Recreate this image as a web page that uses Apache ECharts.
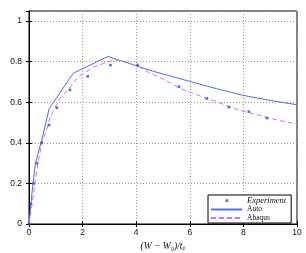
<!DOCTYPE html>
<html><head><meta charset="utf-8">
<script src="https://cdn.jsdelivr.net/npm/echarts@6/dist/echarts.min.js"></script>
<style>html,body{margin:0;padding:0;background:#fff}#c{width:306px;height:253px}</style>
</head><body><div id="c"></div>
<script>
// Experiment points
var expX = [0, 0.06, 0.17, 0.30, 0.47, 0.75, 1.04, 1.53, 2.19, 3.04, 4.05, 5.6, 6.64, 7.46, 8.2, 8.88];
var expY = [0, 0.10, 0.20, 0.30, 0.40, 0.488, 0.573, 0.661, 0.728, 0.783, 0.784, 0.677, 0.619, 0.576, 0.554, 0.522];
// Auto (solid)
var autoX = [0, 0.07, 0.15, 0.24, 0.47, 0.75, 1.65, 2.95, 4.5, 6.0, 7.0, 8.0, 9.0, 10];
var autoY = [0, 0.10, 0.20, 0.30, 0.41, 0.568, 0.743, 0.826, 0.758, 0.703, 0.667, 0.634, 0.609, 0.588];
// Abaqus (dashed)
var abaqusX = [0, 0.12, 0.22, 0.33, 0.50, 0.65, 0.79, 0.92, 1.15, 1.5, 1.85, 2.4, 3.0, 3.25, 3.65, 4.1, 4.5, 4.9, 5.3, 5.6, 6.0, 6.45, 7.2, 7.7, 8.5, 9.3, 10];
var abaqusY = [0, 0.10, 0.20, 0.30, 0.41, 0.462, 0.527, 0.56, 0.618, 0.667, 0.727, 0.773, 0.802, 0.809, 0.797, 0.775, 0.745, 0.721, 0.694, 0.67, 0.65, 0.628, 0.593, 0.567, 0.539, 0.511, 0.493];
var seriesNames = ['Experiment', 'Auto', 'Abaqus'];
var xTitle = '(W \u2212 W\u2080)/t\u209B';
var yTitle = 'p';

function pairs(xs, ys) { return xs.map(function (x, i) { return [x, ys[i]]; }); }

var chart = echarts.init(document.getElementById('c'), null, { renderer: 'canvas' });
var tickFont = { fontSize: 8.5, fontFamily: 'Liberation Sans', color: '#111' };
var gridLine = { show: true, lineStyle: { color: '#9a9a9a', width: 1, type: [1, 2] } };
var noSym = { color: 'rgba(0,0,0,0)', borderWidth: 0, opacity: 0 };
chart.setOption({
  animation: false,
  backgroundColor: '#fff',
  grid: { left: 29, right: 9, top: 11, bottom: 29, show: true, borderColor: '#000', borderWidth: 1, containLabel: false, outerBoundsMode: 'none' },
  xAxis: [{
    type: 'value', min: 0, max: 10, interval: 2, position: 'bottom',
    axisLine: { show: true, lineStyle: { color: '#000', width: 1 } },
    axisTick: { show: true, inside: true, length: 3, lineStyle: { color: '#000' } },
    axisLabel: Object.assign({ margin: 4 }, tickFont),
    splitLine: gridLine,
    name: xTitle, nameLocation: 'middle', nameGap: 16,
    nameTextStyle: { fontSize: 9.5, fontStyle: 'italic', fontFamily: 'Liberation Serif', color: '#111' }
  }, {
    type: 'value', min: 0, max: 10, interval: 2, position: 'top',
    axisLine: { show: true, lineStyle: { color: '#000', width: 1 } },
    axisTick: { show: true, inside: true, length: 3, lineStyle: { color: '#000' } },
    axisLabel: { show: false }, splitLine: { show: false }
  }],
  yAxis: [{
    type: 'value', min: 0, max: 1.05, interval: 0.2, position: 'left',
    axisLine: { show: true, lineStyle: { color: '#000', width: 1 } },
    axisTick: { show: true, inside: true, length: 3, lineStyle: { color: '#000' } },
    axisLabel: Object.assign({
      margin: 7, showMaxLabel: false,
      formatter: function (v) { var r = Math.round(v * 10) / 10; return Math.abs(r * 5 - Math.round(r * 5)) < 1e-6 && Math.abs(v - r) < 1e-6 ? String(r) : ''; }
    }, tickFont),
    splitLine: gridLine,
    name: yTitle, nameLocation: 'middle', nameGap: 19, nameRotate: 90,
    nameTextStyle: { fontSize: 10, fontStyle: 'italic', fontFamily: 'Liberation Serif', color: '#111' }
  }, {
    type: 'value', min: 0, max: 1.05, interval: 0.2, position: 'right',
    axisLine: { show: true, lineStyle: { color: '#000', width: 1 } },
    axisTick: { show: true, inside: true, length: 3, lineStyle: { color: '#000' } },
    axisLabel: { show: false }, splitLine: { show: false }
  }],
  legend: {
    orient: 'vertical', left: 208, top: 195,
    padding: [1, 5, 1, 2], itemWidth: 31, itemHeight: 7, itemGap: 0.5,
    borderColor: '#000', borderWidth: 1, backgroundColor: '#fff',
    textStyle: { fontSize: 7.5, lineHeight: 7, fontFamily: 'Liberation Serif', color: '#111' },
    data: [
      { name: seriesNames[0], icon: 'path://M0,0M31,7M14.5,2.3h2.6v2.6h-2.6z', textStyle: { fontStyle: 'italic', fontSize: 8.5 } },
      { name: seriesNames[1], itemStyle: noSym },
      { name: seriesNames[2], itemStyle: noSym }
    ]
  },
  series: [
    {
      name: seriesNames[0], type: 'scatter', xAxisIndex: 0, yAxisIndex: 0,
      symbol: 'rect', symbolSize: 2.6, itemStyle: { color: '#2448f0' },
      data: pairs(expX, expY), z: 5
    },
    {
      name: seriesNames[1], type: 'line', xAxisIndex: 0, yAxisIndex: 0,
      symbol: 'none', showSymbol: false, itemStyle: { color: '#4a6cf8' },
      lineStyle: { color: '#4a6cf8', width: 1 }, data: pairs(autoX, autoY)
    },
    {
      name: seriesNames[2], type: 'line', xAxisIndex: 0, yAxisIndex: 0,
      symbol: 'none', showSymbol: false, itemStyle: { color: '#dc6cf0' },
      lineStyle: { color: '#dc6cf0', width: 1, type: [5, 3] }, data: pairs(abaqusX, abaqusY)
    }
  ]
});
</script></body></html>
